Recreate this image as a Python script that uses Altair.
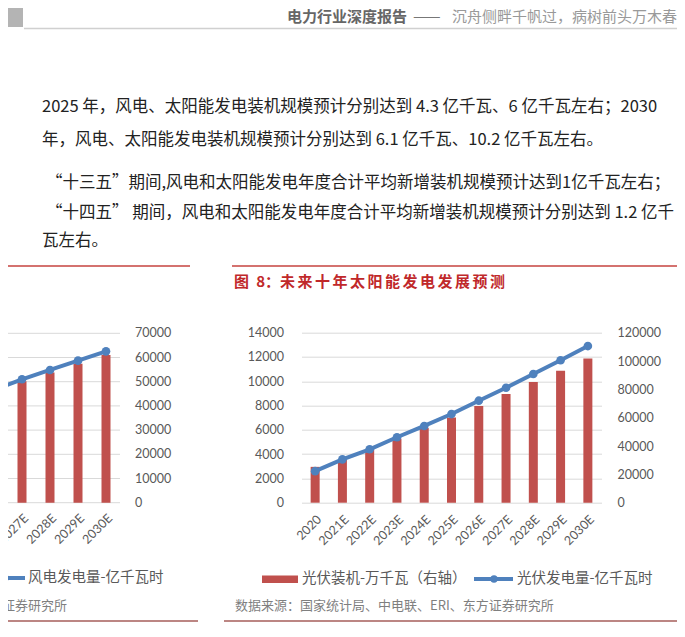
import altair as alt
import pandas as pd

# ---------------- data ----------------
years = ["2020", "2021E", "2022E", "2023E", "2024E", "2025E",
         "2026E", "2027E", "2028E", "2029E", "2030E"]
solar_capacity = [25300, 30600, 38000, 45300, 52700, 60200, 68300, 76700, 85200, 93200, 101800]   # 万千瓦 (right axis)
solar_generation = [2600, 3570, 4400, 5390, 6320, 7300, 8400, 9470, 10600, 11730, 12900]         # 亿千瓦时 (left axis)
wind_capacity = [28200, 31000, 34000, 37000, 40000, 43000, 46600, 50200, 53800, 57400, 61000]     # 万千瓦
wind_generation = [4665, 5500, 6300, 7100, 7900, 8700, 9300, 10200, 10970, 11740, 12510]          # 亿千瓦时
solar_left_ticks = [0, 2000, 4000, 6000, 8000, 10000, 12000, 14000]
solar_right_ticks = [0, 20000, 40000, 60000, 80000, 100000, 120000]
wind_right_ticks = [0, 10000, 20000, 30000, 40000, 50000, 60000, 70000]

header_bold = "电力行业深度报告"
header_dash = "——"
header_rest = "沉舟侧畔千帆过，病树前头万木春"
para_lines = [
    "2025 年，风电、太阳能发电装机规模预计分别达到 4.3 亿千瓦、6 亿千瓦左右；2030",
    "年，风电、太阳能发电装机规模预计分别达到 6.1 亿千瓦、10.2 亿千瓦左右。",
    "“十三五”期间,风电和太阳能发电年度合计平均新增装机规模预计达到1亿千瓦左右；",
    "“十四五” 期间，风电和太阳能发电年度合计平均新增装机规模预计分别达到 1.2 亿千",
    "瓦左右。",
]
fig_title = "图\u2005 8：" + "\u2006".join("未来十年太阳能发电发展预测")
solar_bar_name = "光伏装机-万千瓦（右轴）"
solar_line_name = "光伏发电量-亿千瓦时"
wind_line_name = "风电发电量-亿千瓦时"
source_text = "数据来源：国家统计局、中电联、ERI、东方证券研究所"

# ---------------- layout helpers (page px -> view px) ----------------
OX, OY = 301.5, 332.7
PW, PH = 300, 170


def vx(p):
    return p - OX


def vy(p):
    return p - OY


CJK = "Noto Sans CJK SC"
NUM = "Lato"
GRAY = "#595959"
RED = "#c0504d"
BLUE = "#4f81bd"
GRID = "#d9d9d9"

solar = pd.DataFrame({"year": years, "cap": solar_capacity, "gen": solar_generation})
wind = pd.DataFrame({"year": years, "cap": wind_capacity, "gen": wind_generation})
wind_ticks = pd.DataFrame({"v": wind_right_ticks, "label": [str(v) for v in wind_right_ticks]})

# ---------------- wind chart (cropped, left) ----------------
w_range_x = [vx(-188), vx(120)]
w_range_y = [vy(502.7), vy(333.3)]
w_band = alt.Scale(type="band", domain=years, range=w_range_x, paddingInner=0.1, paddingOuter=0.05)
w_point = alt.Scale(type="point", domain=years, range=w_range_x, padding=0.5)
w_cap_scale = alt.Scale(domain=[0, 70000], range=w_range_y, nice=False, zero=True)
w_gen_scale = alt.Scale(domain=[0, 14000], range=w_range_y, nice=False, zero=True)

w_grid = alt.Chart(wind_ticks).mark_rule(color=GRID, strokeWidth=1).encode(
    x=alt.value(vx(-188)), x2=alt.value(vx(120)),
    y=alt.Y("v:Q", scale=w_cap_scale, axis=None),
)
w_ylab = alt.Chart(wind_ticks).mark_text(align="left", baseline="middle", font=NUM,
                                         fontSize=12.5, color=GRAY).encode(
    x=alt.value(vx(135)),
    y=alt.Y("v:Q", scale=w_cap_scale, axis=None),
    text="label:N",
)
w_bars = alt.Chart(wind).mark_bar(size=9, color=RED).encode(
    x=alt.X("year:N", sort=years, scale=w_band, axis=None),
    y=alt.Y("cap:Q", scale=w_cap_scale, axis=None),
)
w_line = alt.Chart(wind).mark_line(color=BLUE, strokeWidth=4,
                                   point=alt.OverlayMarkDef(filled=True, size=75, color=BLUE)).encode(
    x=alt.X("year:N", sort=years, scale=w_point, axis=None),
    y=alt.Y("gen:Q", scale=w_gen_scale, axis=None),
)
w_xlab = alt.Chart(wind).mark_text(angle=315, align="right", baseline="top", font=NUM,
                                   fontSize=12.5, color=GRAY).encode(
    x=alt.X("year:N", sort=years, scale=w_point, axis=None),
    y=alt.value(vy(512)),
    text="year:N",
)

# ---------------- solar chart (right) ----------------
s_bars = alt.Chart(solar).mark_bar(size=9, color=RED).encode(
    x=alt.X("year:N", sort=years,
            scale=alt.Scale(type="band", domain=years, paddingInner=0.1, paddingOuter=0.05),
            axis=alt.Axis(orient="bottom", labelAngle=-45, domain=False, ticks=False, grid=False,
                          labelPadding=10, labelFont=NUM, labelFontSize=12.5, labelColor=GRAY,
                          title=None)),
    y=alt.Y("cap:Q", scale=alt.Scale(domain=[0, 120000], nice=False),
            axis=alt.Axis(orient="right", values=solar_right_ticks, format="d", grid=False,
                          domain=False, ticks=False, labelPadding=15.5, labelFont=NUM,
                          labelFontSize=12.5, labelColor=GRAY, title=None)),
)
s_line = alt.Chart(solar).mark_line(color=BLUE, strokeWidth=4,
                                    point=alt.OverlayMarkDef(filled=True, size=75, color=BLUE)).encode(
    x=alt.X("year:N", sort=years, scale=alt.Scale(type="point", domain=years, padding=0.5), axis=None),
    y=alt.Y("gen:Q", scale=alt.Scale(domain=[0, 14000], nice=False),
            axis=alt.Axis(orient="left", values=solar_left_ticks, format="d", grid=True,
                          gridColor=GRID, gridWidth=1, domain=False, ticks=False, labelPadding=18,
                          labelFont=NUM, labelFontSize=12.5, labelColor=GRAY, title=None)),
)

one = pd.DataFrame({"t": [""]})


def text_at(txt, x, y, size, color, weight="normal", align="left", font=CJK):
    return alt.Chart(pd.DataFrame({"t": [txt]})).mark_text(
        align=align, baseline="middle", font=font, fontSize=size, color=color, fontWeight=weight
    ).encode(x=alt.value(vx(x)), y=alt.value(vy(y)), text="t:N")


def hline(x1, x2, y, color, width):
    return alt.Chart(one).mark_rule(color=color, strokeWidth=width).encode(
        x=alt.value(vx(x1)), x2=alt.value(vx(x2)), y=alt.value(vy(y)))


def box(x1, x2, y1, y2, color):
    return alt.Chart(one).mark_rect(color=color).encode(
        x=alt.value(vx(x1)), x2=alt.value(vx(x2)), y=alt.value(vy(y1)), y2=alt.value(vy(y2)))


def dot(x, y, color, size):
    return alt.Chart(one).mark_point(filled=True, color=color, size=size, opacity=1).encode(
        x=alt.value(vx(x)), y=alt.value(vy(y)))


deco = [
    # page header
    box(0, 23, 0, 27, "#b4b4b4"),
    hline(24, 690, 28.5, "#d0d0d0", 1.5),
    text_at(header_bold, 287, 17, 15, "#666666", weight="bold"),
    text_at(header_dash, 413, 17, 16.5, "#777777"),
    text_at(header_rest, 452, 17, 15, "#999999"),
    # paragraphs
    text_at(para_lines[0], 42, 107, 16.5, "#222222"),
    text_at(para_lines[1], 42, 140, 16.5, "#222222"),
    text_at(para_lines[2], 46, 183, 16.5, "#222222"),
    text_at(para_lines[3], 46, 213, 16.5, "#222222"),
    text_at(para_lines[4], 42, 241, 16.5, "#222222"),
    # figure frames
    hline(-10, 190, 266, "#d4726f", 2),
    hline(232, 678, 266, "#d4726f", 2),
    text_at(fig_title, 234, 282, 15, "#c0282a", weight="bold"),
    hline(-10, 198, 621, "#a65e5a", 1.5),
    hline(224, 690, 621, "#a65e5a", 1.5),
    # legends
    hline(-15, 25, 578, BLUE, 4),
    dot(5, 578, BLUE, 55),
    text_at(wind_line_name, 28, 578, 14.5, GRAY),
    box(262, 298, 575.5, 583, RED),
    text_at(solar_bar_name, 302, 579, 14.5, GRAY),
    hline(474, 513, 579, BLUE, 4),
    dot(494, 579, BLUE, 55),
    text_at(solar_line_name, 517, 579, 14.5, GRAY),
    # sources
    text_at(source_text, 67, 606, 13, "#7f7f7f", align="right"),
    text_at(source_text, 235, 606, 13, "#7f7f7f"),
]

chart = alt.layer(
    w_grid, w_ylab, w_bars, w_line, w_xlab, s_bars, s_line, *deco
).resolve_scale(
    x="independent", y="independent"
).properties(
    width=PW, height=PH,
    autosize=alt.AutoSizeParams(type="none"),
    padding={"left": OX - 8, "top": OY - 8, "right": 669 - (OX - 8) - PW, "bottom": 621 - (OY - 8) - PH},
    background="white",
).configure_view(stroke=None)

chart.save("out.html", embed_options={"renderer": "svg", "actions": False})
